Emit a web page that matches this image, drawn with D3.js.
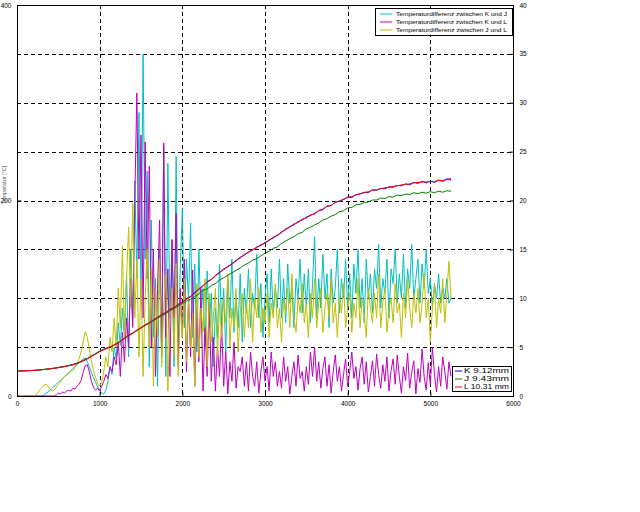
<!DOCTYPE html>
<html><head><meta charset="utf-8">
<script src="https://cdn.jsdelivr.net/npm/d3@7/dist/d3.min.js"></script>
<style>body{margin:0;background:#fff}svg{display:block}text{font-family:"Liberation Sans",Arial,sans-serif}</style>
</head><body>
<svg id="c" width="640" height="512"></svg>
<script>
// ---- data ----
const xTicks = [0,1000,2000,3000,4000,5000,6000];
const leftTicks = [0,200,400];
const rightTicks = [0,5,10,15,20,25,30,35,40];
const diffStep = 25;   // x spacing of the difference samples
const tempStep = 50;   // x spacing of the temperature samples
const diffNames = ["Temperaturdifferenz zwischen K und J","Temperaturdifferenz zwischen K und L","Temperaturdifferenz zwischen J und L"];
const tempNames = ["K 9.12mm","J 9.43mm","L 10.31 mm"];

const diffKJ = [0,0,0,0,0,0,0,0,0,0,0,0,0,0.1,0.3,0.4,0.6,0.8,1.0,1.2,1.4,1.6,1.8,2.0,2.2,2.4,2.6,2.8,3.0,3.2,3.4,3.6,3.8,3.9,3.5,3.0,2.4,1.9,1.4,1.0,0.6,0.3,0.2,0.6,1.5,3.0,2.2,5.0,3.8,7.5,5.2,9.0,6.0,12.5,4.0,15.0,8.0,22.0,12.0,29.0,10.0,35.0,14.0,23.0,3.0,18.0,6.0,12.0,1.0,15.0,4.0,25.5,2.0,23.8,8.0,16.0,3.0,24.5,5.0,13.0,19.2,7.0,14.0,9.8,17.7,6.0,13.5,4.5,15.0,8.0,11.0,5.0,12.8,7.0,10.5,3.0,9.0,6.0,13.5,7.5,11.0,4.5,12.0,8.0,14.0,6.5,10.0,7.0,12.5,5.5,11.0,8.5,13.0,7.0,10.5,9.0,14.5,8.0,11.5,6.0,10.0,12.5,7.5,13.0,8.5,11.0,9.0,14.0,8.0,12.0,7.5,13.5,9.5,11.0,7.0,12.0,10.0,14.0,8.5,12.5,9.0,13.0,7.5,11.5,16.3,8.0,12.0,9.0,14.5,10.0,12.5,7.0,13.0,9.5,11.0,15.0,8.5,12.0,10.0,14.0,9.0,12.5,8.0,13.5,10.5,15.0,9.0,12.0,7.5,14.0,10.0,12.5,8.5,13.0,11.0,15.5,9.0,12.0,10.5,14.0,8.0,13.0,11.5,15.0,9.5,12.5,10.0,14.5,9.0,13.0,11.0,15.5,10.0,12.0,14.0,9.5,13.5,11.0,15.0,10.5,12.0,9.0,11.5,10.0,12.5,9.5,11.0,10.0,12.0,9.5,10.0];
const diffKL = [0,0,0,0,0,0,0,0,0,0,0,0,0,0,0,0,0,0,0,0.1,0.3,0.2,0.4,0.3,0.5,0.6,0.5,0.8,0.7,1.0,1.2,1.6,2.4,3.1,3.2,2.5,1.5,0.9,0.6,0.8,0.5,1.0,1.5,2.2,1.8,3.0,2.5,4.0,3.2,5.5,2.0,6.5,3.5,8.0,5.0,12.0,7.0,20.0,31.0,14.0,26.7,8.0,26.0,12.0,23.5,5.0,15.0,2.0,11.0,18.0,4.0,25.9,6.0,13.0,2.0,16.0,8.0,18.7,3.0,11.0,6.0,14.0,2.5,10.0,4.0,12.9,1.0,9.0,3.5,11.0,0.5,7.0,2.0,9.5,1.5,6.0,0.5,5.0,2.0,7.5,1.0,4.5,0.2,3.5,1.5,5.5,0.8,3.0,2.5,4.0,1.0,3.5,0.5,4.5,2.0,1.0,3.5,0.3,2.5,4.0,1.5,3.0,0.5,4.5,2.0,3.5,1.0,2.5,0.8,4.0,1.5,3.0,0.2,2.0,3.5,1.0,4.2,1.8,2.5,0.5,3.0,1.2,4.5,2.0,5.0,1.5,3.5,0.8,2.8,4.0,1.0,3.2,0.3,2.5,4.2,1.5,3.0,0.5,2.2,3.8,1.0,2.5,4.5,1.8,3.0,0.6,2.8,4.0,1.2,3.5,0.4,2.0,3.6,1.0,4.3,2.2,0.8,3.2,1.5,4.0,0.5,2.6,3.8,1.2,4.2,2.0,0.3,3.0,1.6,4.4,0.8,2.4,3.6,0.2,2.8,1.4,4.8,2.0,0.6,3.4,1.2,5.0,2.2,0.4,3.0,1.0,4.0,2.5,0.7,3.5,2.0];
const diffJL = [0,0,0,0,0,0,0,0,0,0.1,0.3,0.6,0.9,1.1,1.2,1.0,0.7,0.5,0.6,0.9,1.2,1.4,1.7,2.0,2.1,2.3,2.5,2.6,2.9,3.3,3.8,4.5,5.5,6.6,6.0,4.8,3.6,2.6,1.9,1.3,1.0,1.4,2.5,4.0,3.0,6.0,4.5,8.0,5.0,11.0,7.0,15.4,6.0,12.0,17.3,9.0,19.7,8.0,14.0,4.0,12.0,2.0,10.0,15.0,5.0,13.0,1.0,11.0,6.0,14.0,3.0,9.0,12.5,0.5,8.0,11.0,4.0,13.5,2.0,9.5,6.0,12.0,3.5,10.0,5.0,8.5,1.0,11.5,4.0,9.0,6.5,12.0,3.0,10.5,5.5,8.0,11.0,4.0,9.5,6.0,10.0,7.5,12.5,5.0,9.0,7.0,11.0,4.5,8.5,10.5,6.0,9.5,7.0,12.0,5.5,10.0,8.0,11.0,6.5,9.0,7.5,10.5,6.0,9.5,8.0,11.5,7.0,9.0,5.5,10.0,8.5,11.0,7.0,12.5,8.0,6.5,10.0,8.5,11.5,7.5,9.5,6.0,10.5,8.0,12.0,7.0,9.5,11.0,6.5,9.0,10.5,8.0,12.0,7.5,9.5,6.0,10.0,8.5,11.5,7.0,9.0,10.5,6.5,9.5,8.0,12.0,7.0,10.0,8.5,6.0,11.0,9.0,7.5,10.5,8.0,12.5,7.0,9.5,11.0,6.5,9.0,10.0,7.5,11.5,8.5,9.5,6.0,10.5,8.0,12.0,9.0,7.0,10.5,8.5,11.0,7.5,9.5,12.5,8.0,10.0,5.5,9.0,11.5,7.0,10.0,8.5,12.0,7.5,10.5,13.8,10.0];

const tempK = [25.5,25.6,25.8,26,26.2,26.5,26.9,27.3,27.8,28.3,29,29.7,30.5,31.4,32.5,34,36,38,40.5,43,45.5,47.5,49,51,53.5,56,59,62,64.5,67,70,72.5,75,77.5,80.5,83,85.5,88.5,90.5,93.5,96,99,101.5,106,109,113,116.5,119,123.5,126,130,132,135.5,138,142,144,147.5,149,152.5,154,157,159,162.5,164,168,170,173.5,175,178.5,180,183,184.5,187,189.5,191,194,195,198,199.5,201,203.5,203,206,206.5,208.5,208,211,210.5,212.5,212,214,213.5,215.5,215,217,216,218.5,217.5,219.5,218,220,218.5,221,219.5,222,221];
const tempJ = [25.5,25.6,25.8,26,26.2,26.5,27,27.5,28,28.6,29.3,30,30.8,31.8,33,34.5,36.5,38.5,41,43.5,46,48,49.5,51,53.5,56,59,61.5,64,67,69.5,72,74.5,77,79.5,82,84.5,87,89.5,92,94.5,97,99,101.5,104.5,108,109.5,113,115,118.5,121,123.5,126,128.5,131,134,136,139,140.5,143.5,146,148,151,152.5,156,158.5,161,163,166,167.5,171,172.5,175,177,180,181.5,184,185.5,188.5,189.5,192.5,193,195.5,196,198,198.5,200.5,200.5,202.5,202,204,203.5,205.5,205,206.5,206,208,207,208.5,207.5,209,208,209.5,208.5,210,209.5];
const tempL = [25.5,25.6,25.8,26,26.2,26.5,26.9,27.3,27.8,28.3,29,29.7,30.5,31.4,32.5,34,36,38,40.5,43,45.5,47.5,49.5,51,53,56.5,58.5,62.5,64,67.5,69.5,73,74.5,78,80,83.5,85,89,90,94,95.5,99.5,102,105,110,112,117,119.5,122.5,127,129,133,134.5,139,141,145,146.5,150,151.5,155,156,160,161.5,165,167,171,172.5,176,177.5,181,182,185.5,186,190,190.5,194.5,194.5,198.5,199,201.5,203,204,205.5,207,208,209,210.5,211,212,213,213.5,214.5,215,216,216.5,217,218,218.5,219,219,219.5,219.5,220.5,220.5,221.5,222.5];

const diffColors = ["rgb(0,191,191)","rgb(191,0,191)","rgb(191,191,0)"];
const tempColors = ["rgb(0,0,255)","rgb(0,128,0)","rgb(255,0,0)"];

// ---- chart ----
const svg = d3.select("#c");
const L = 17, R = 513, T = 5, B = 396;
const x = d3.scaleLinear().domain([0,6000]).range([L,R]);
const yL = d3.scaleLinear().domain([0,400]).range([B,T]);
const yR = d3.scaleLinear().domain([0,40]).range([B,T]);

svg.append("rect").attr("width",640).attr("height",512).attr("fill","#fff");

// grid
const g = svg.append("g").attr("stroke","#000").attr("stroke-width",1).attr("stroke-dasharray","4,3").attr("shape-rendering","crispEdges");
xTicks.filter(v=>v>0&&v<6000).forEach(v=>{
  g.append("line").attr("x1",Math.round(x(v))+0.5).attr("x2",Math.round(x(v))+0.5).attr("y1",T).attr("y2",B);
});
rightTicks.filter(v=>v>0&&v<40).forEach(v=>{
  g.append("line").attr("x1",L).attr("x2",R).attr("y1",Math.round(yR(v))+0.5).attr("y2",Math.round(yR(v))+0.5);
});

// series
const dLine = d3.line().x((d,i)=>x(i*diffStep)).y(d=>yR(d));
const tLine = d3.line().x((d,i)=>x(i*tempStep)).y(d=>yL(d));
[diffKJ,diffKL,diffJL].forEach((s,k)=>{
  svg.append("path").attr("d",dLine(s)).attr("fill","none").attr("stroke",diffColors[k]).attr("stroke-width",1);
});
[tempK,tempJ,tempL].forEach((s,k)=>{
  svg.append("path").attr("d",tLine(s)).attr("fill","none").attr("stroke",tempColors[k]).attr("stroke-width",1);
});

// frame
svg.append("rect").attr("x",L+0.5).attr("y",T+0.5).attr("width",R-L).attr("height",B-T)
  .attr("fill","none").attr("stroke","#000").attr("stroke-width",1).attr("shape-rendering","crispEdges");

// axes
const fs = 6.5;
const bottom = d3.axisBottom(x).tickValues(xTicks).tickSize(-4).tickPadding(5).tickFormat(d3.format("d"));
const left = d3.axisLeft(yL).tickValues(leftTicks).tickSize(-4).tickPadding(6).tickFormat(d3.format("d"));
const right = d3.axisRight(yR).tickValues(rightTicks).tickSize(-4).tickPadding(6).tickFormat(d3.format("d"));
function styleAxis(sel){
  sel.select(".domain").remove();
  sel.selectAll("text").attr("font-size",fs).attr("font-family","'Liberation Sans',Arial,sans-serif").attr("fill","#000");
}
svg.append("g").attr("transform",`translate(0,${B+0.5})`).call(bottom).call(styleAxis);
svg.append("g").attr("transform",`translate(${L+0.5},0)`).call(left).call(styleAxis);
svg.append("g").attr("transform",`translate(${R+0.5},0)`).call(right).call(styleAxis);

// left axis label, squeezed into the narrow left margin
svg.append("text").attr("transform","translate(5.5,185) rotate(-90)").attr("text-anchor","middle")
  .attr("font-size",5.5).attr("fill","#555").text("Temperatur [°C]");

// legend 1
const lg1 = svg.append("g");
lg1.append("rect").attr("x",375.5).attr("y",8.5).attr("width",137).attr("height",27).attr("fill","#fff").attr("stroke","#000");
diffNames.forEach((n,k)=>{
  const yy = 14 + k*8;
  lg1.append("line").attr("x1",380).attr("x2",392).attr("y1",yy).attr("y2",yy).attr("stroke",diffColors[k]);
  lg1.append("text").attr("x",396).attr("y",yy+2.2).attr("font-size",6).attr("textLength",111).attr("lengthAdjust","spacingAndGlyphs").text(n);
});

// legend 2
const lg2 = svg.append("g");
lg2.append("rect").attr("x",452.5).attr("y",366.5).attr("width",59).attr("height",25).attr("fill","#fff").attr("stroke","#000");
tempNames.forEach((n,k)=>{
  const yy = 371 + k*8;
  lg2.append("line").attr("x1",455).attr("x2",462).attr("y1",yy).attr("y2",yy).attr("stroke",tempColors[k]);
  lg2.append("text").attr("x",464).attr("y",yy+2.3).attr("font-size",6.5).attr("textLength",45).attr("lengthAdjust","spacingAndGlyphs").text(n);
});
</script>
</body></html>
